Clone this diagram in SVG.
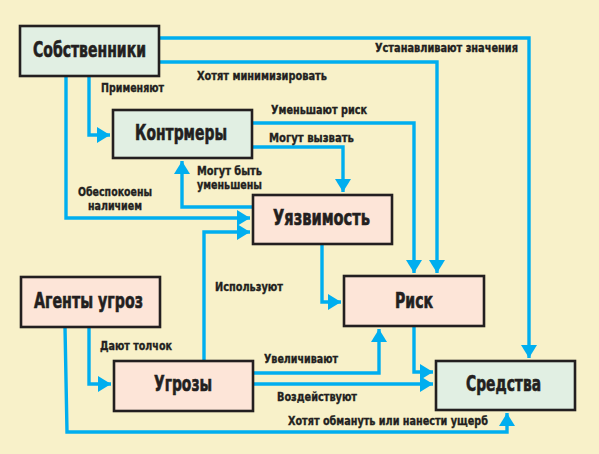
<svg xmlns="http://www.w3.org/2000/svg" width="599" height="454" viewBox="0 0 599 454">
<style>
.bg{fill:#F8F1C9}
.box{stroke:#231F20;stroke-width:2.6}
.g{fill:#E1EFE3}
.p{fill:#FDE5D8}
.t{font-family:"DejaVu Sans Condensed","Liberation Sans",sans-serif;font-weight:bold;fill:#231F20;stroke:#231F20}
.big{font-size:20.5px;stroke-width:0.6}
.sm{font-size:12.5px;stroke-width:0.35}
.c{fill:none;stroke:#00AEEF;stroke-width:3.4;marker-end:url(#ah)}
</style>
<defs>
<marker id="ah" markerUnits="userSpaceOnUse" markerWidth="14" markerHeight="17" refX="13" refY="8" orient="auto" viewBox="0 0 14 17">
<path d="M0,0 L13,8 L0,16 z" fill="#00AEEF"/>
</marker>
</defs>
<rect class="bg" x="0" y="0" width="599" height="454"/>
<g id="connectors">
<path class="c" d="M159,38 H529 V358"/>
<path class="c" d="M159,62 H437 V273"/>
<path class="c" d="M252,123 H414 V273"/>
<path class="c" d="M252,147 H343 V192"/>
<path class="c" d="M253,207 H182 V161"/>
<path class="c" d="M89,76 V135 H110"/>
<path class="c" d="M66,76 V218 H250"/>
<path class="c" d="M204,361 V232 H250"/>
<path class="c" d="M322,244 V302 H341"/>
<path class="c" d="M89,327 V384 H111"/>
<path class="c" d="M65,327 L67,432 H507 V413"/>
<path class="c" d="M253,373 H379 V329"/>
<path class="c" d="M253,384 H433"/>
<path class="c" d="M414,326 V372 H433"/>
</g>
<g id="labels">
<text class="t sm" x="375" y="52" textLength="143" lengthAdjust="spacingAndGlyphs">Устанавливают значения</text>
<text class="t sm" x="197" y="80" textLength="130" lengthAdjust="spacingAndGlyphs">Хотят минимизировать</text>
<text class="t sm" x="101" y="92" textLength="63" lengthAdjust="spacingAndGlyphs">Применяют</text>
<text class="t sm" x="271" y="114" textLength="96" lengthAdjust="spacingAndGlyphs">Уменьшают риск</text>
<text class="t sm" x="269" y="142" textLength="85" lengthAdjust="spacingAndGlyphs">Могут вызвать</text>
<text class="t sm" x="197" y="175" textLength="65" lengthAdjust="spacingAndGlyphs">Могут быть</text>
<text class="t sm" x="197" y="189" textLength="65" lengthAdjust="spacingAndGlyphs">уменьшены</text>
<text class="t sm" x="78" y="196" textLength="74" lengthAdjust="spacingAndGlyphs">Обеспокоены</text>
<text class="t sm" x="88" y="210" textLength="54" lengthAdjust="spacingAndGlyphs">наличием</text>
<text class="t sm" x="215" y="291" textLength="68" lengthAdjust="spacingAndGlyphs">Используют</text>
<text class="t sm" x="100" y="350" textLength="72" lengthAdjust="spacingAndGlyphs">Дают толчок</text>
<text class="t sm" x="264" y="363" textLength="74" lengthAdjust="spacingAndGlyphs">Увеличивают</text>
<text class="t sm" x="277" y="401" textLength="80" lengthAdjust="spacingAndGlyphs">Воздействуют</text>
<text class="t sm" x="288" y="425" textLength="200" lengthAdjust="spacingAndGlyphs">Хотят обмануть или нанести ущерб</text>
</g>
<g id="owners">
<rect class="box g" x="20" y="26" width="139" height="50"/>
<text class="t big" x="33" y="57" textLength="113" lengthAdjust="spacingAndGlyphs">Собственники</text>
</g>
<g id="countermeasures">
<rect class="box g" x="113" y="110" width="139" height="48"/>
<text class="t big" x="135" y="140" textLength="92" lengthAdjust="spacingAndGlyphs">Контрмеры</text>
</g>
<g id="vulnerability">
<rect class="box p" x="253" y="195" width="139" height="49"/>
<text class="t big" x="273" y="225" textLength="97" lengthAdjust="spacingAndGlyphs">Уязвимость</text>
</g>
<g id="agents">
<rect class="box p" x="21" y="277" width="139" height="50"/>
<text class="t big" x="34" y="308" textLength="109" lengthAdjust="spacingAndGlyphs">Агенты угроз</text>
</g>
<g id="threats">
<rect class="box p" x="114" y="361" width="139" height="50"/>
<text class="t big" x="154" y="391" textLength="58" lengthAdjust="spacingAndGlyphs">Угрозы</text>
</g>
<g id="risk">
<rect class="box p" x="344" y="276" width="140" height="50"/>
<text class="t big" x="395" y="308" textLength="38" lengthAdjust="spacingAndGlyphs">Риск</text>
</g>
<g id="assets">
<rect class="box g" x="436" y="361" width="139" height="49"/>
<text class="t big" x="466" y="391" textLength="75" lengthAdjust="spacingAndGlyphs">Средства</text>
</g>
</svg>
